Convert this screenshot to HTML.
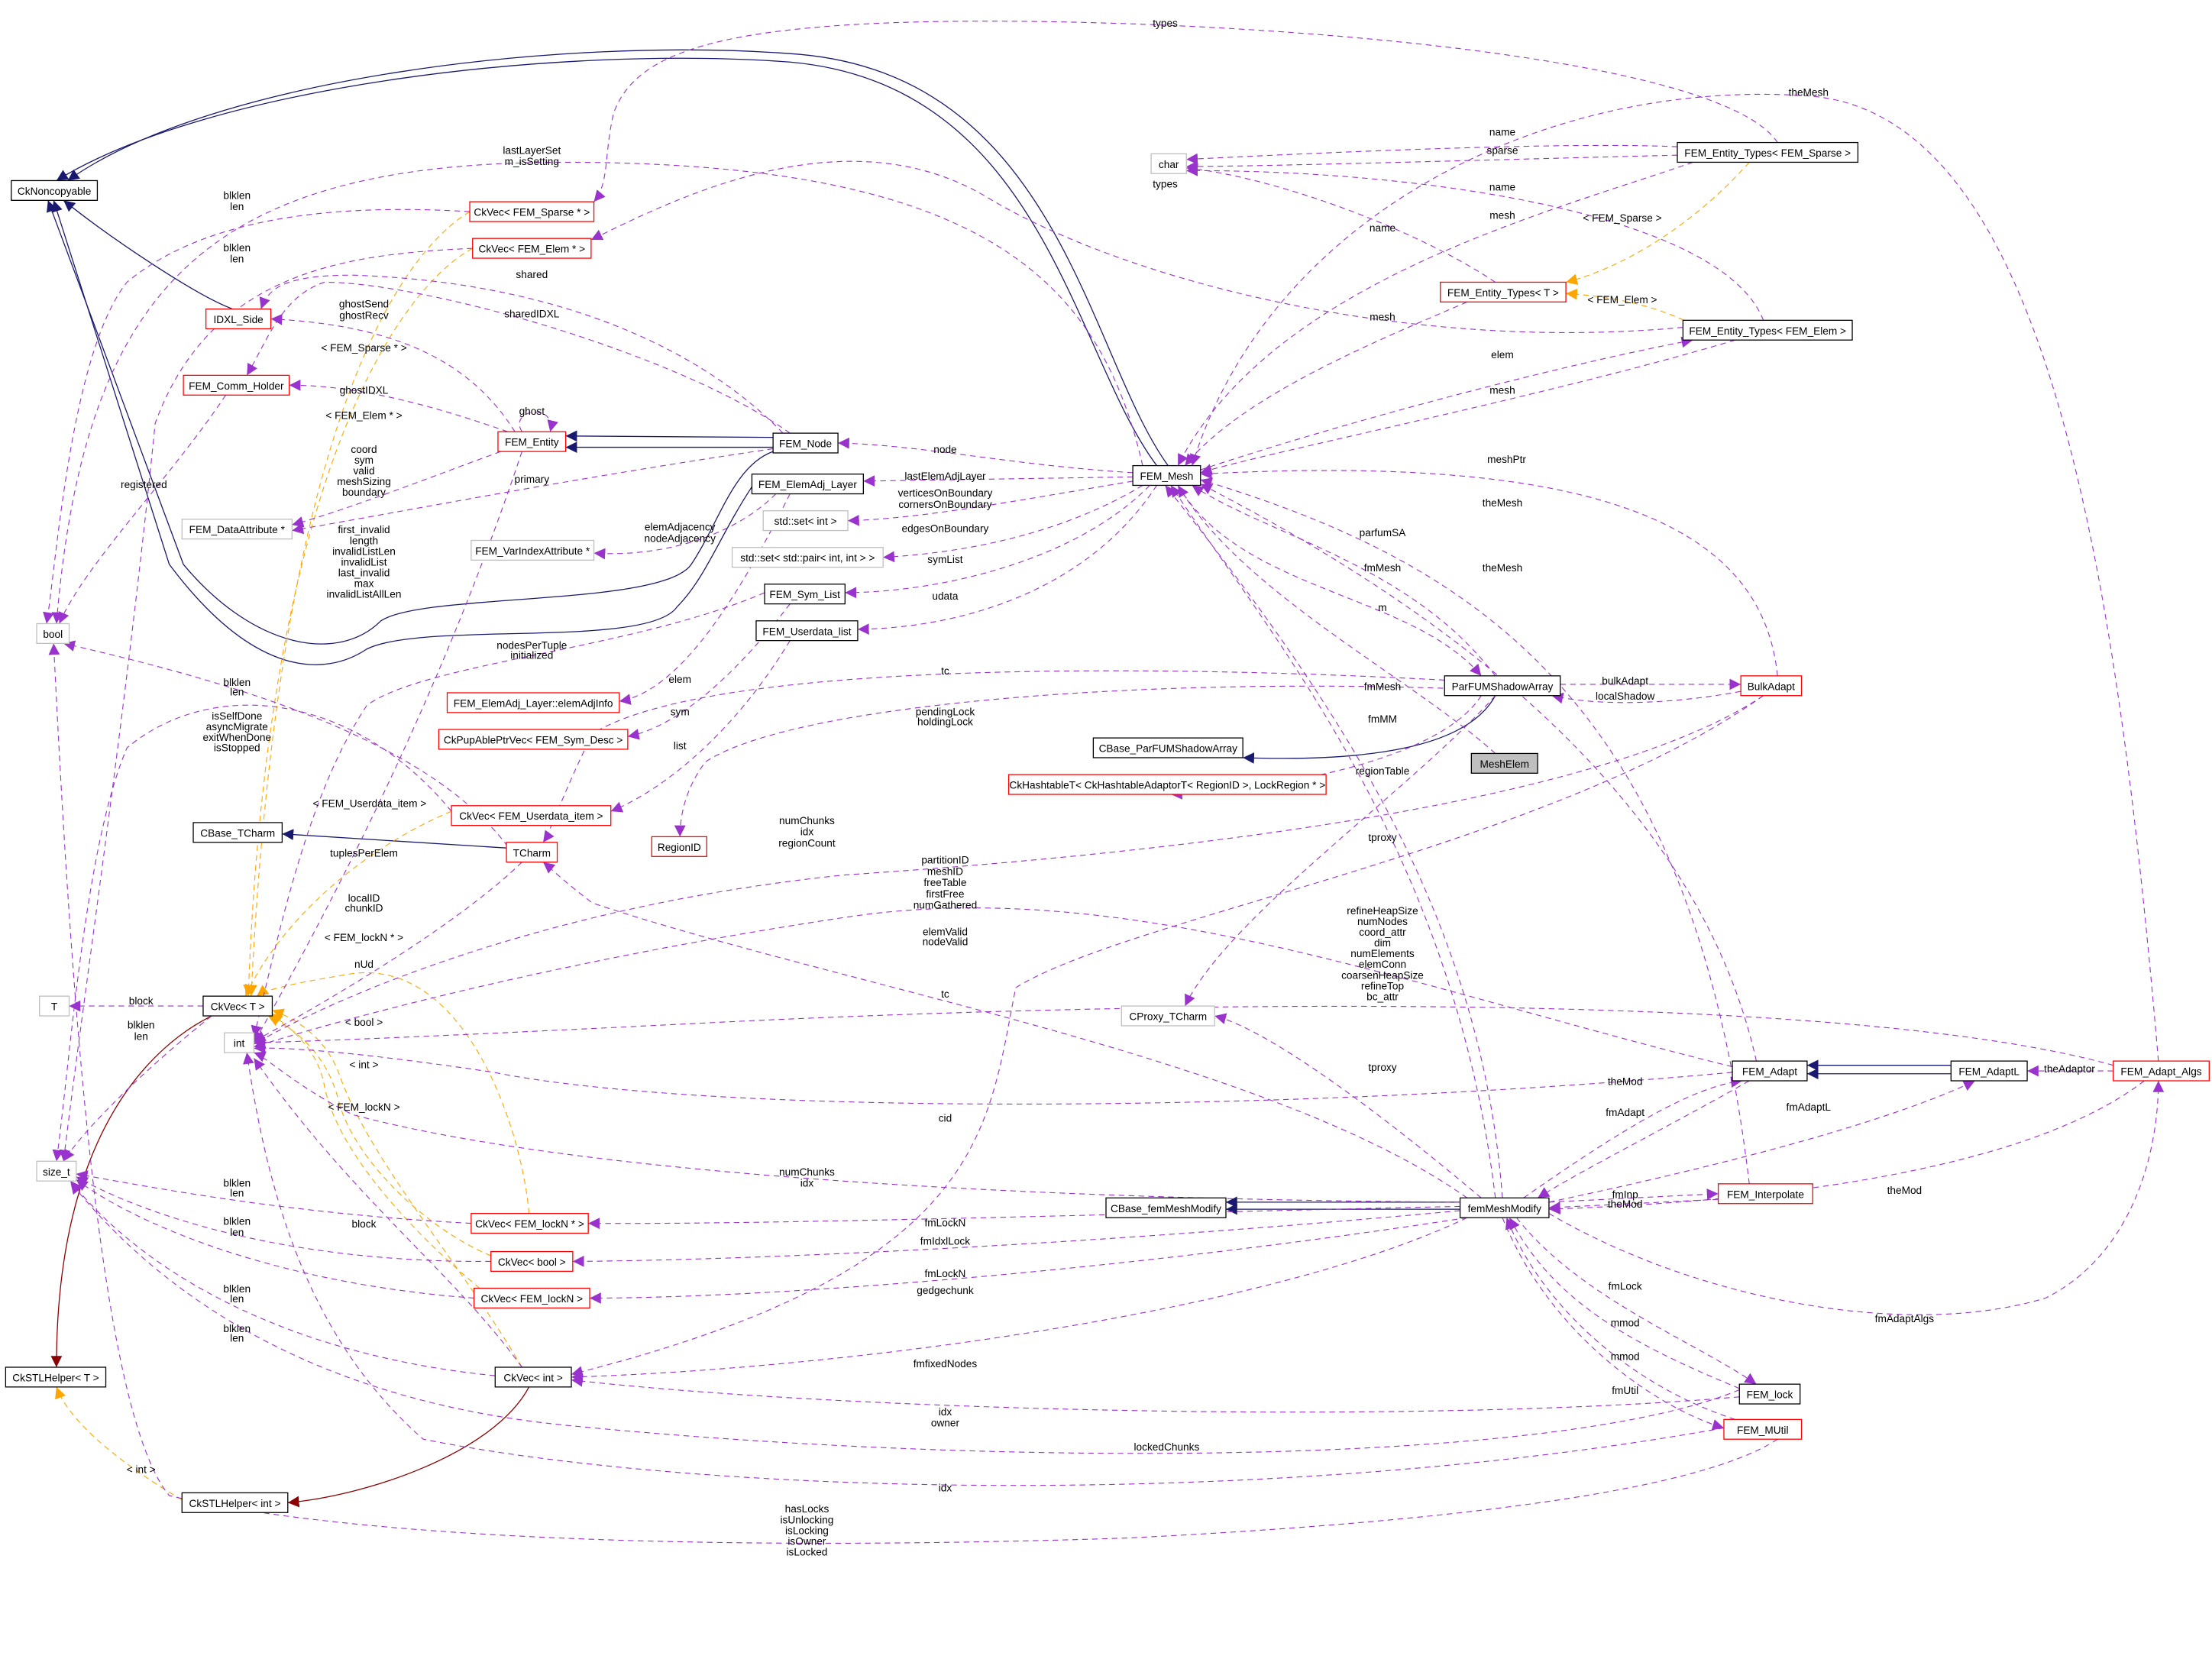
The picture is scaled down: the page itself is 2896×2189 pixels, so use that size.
<!DOCTYPE html>
<html><head><meta charset="utf-8"><style>
html,body{margin:0;padding:0;background:#fff;}
svg{display:block;}
text{font-family:"Liberation Sans",sans-serif;font-size:7.4px;fill:#000;text-anchor:middle;}
.p{fill:none;stroke:#9a32cd;stroke-width:0.6;stroke-dasharray:4,3;}
.n{fill:none;stroke:#191970;stroke-width:0.7;}
.o{fill:none;stroke:#ffa500;stroke-width:0.6;stroke-dasharray:4,3;}
.r{fill:none;stroke:#8b0000;stroke-width:0.7;}
.bk{fill:#fff;stroke:#000;stroke-width:0.7;}
.rd{fill:#fff;stroke:#ff0000;stroke-width:0.7;}
.gy{fill:#fff;stroke:#bfbfbf;stroke-width:0.7;}
</style></head><body>
<svg width="2896" height="2189" viewBox="0 0 1568 1185" preserveAspectRatio="none" xmlns="http://www.w3.org/2000/svg">
<defs>
<marker id="mp" viewBox="0 0 10 10" refX="10" refY="5" markerWidth="8" markerHeight="8" markerUnits="userSpaceOnUse" orient="auto"><path d="M0,0L10,5L0,10z" fill="#9a32cd"/></marker>
<marker id="mn" viewBox="0 0 10 10" refX="10" refY="5" markerWidth="8" markerHeight="8" markerUnits="userSpaceOnUse" orient="auto"><path d="M0,0L10,5L0,10z" fill="#191970"/></marker>
<marker id="mo" viewBox="0 0 10 10" refX="10" refY="5" markerWidth="8" markerHeight="8" markerUnits="userSpaceOnUse" orient="auto"><path d="M0,0L10,5L0,10z" fill="#ffa500"/></marker>
<marker id="mr" viewBox="0 0 10 10" refX="10" refY="5" markerWidth="8" markerHeight="8" markerUnits="userSpaceOnUse" orient="auto"><path d="M0,0L10,5L0,10z" fill="#8b0000"/></marker>
</defs>
<rect width="1568" height="1185" fill="#fff"/>
<!-- navy -->
<g marker-end="url(#mn)">
<path class="n" d="M820,330 C760,250 740,60 560,44 C400,32 150,60 40,128"/>
<path class="n" d="M828,330 C770,250 750,50 560,38 C400,26 150,55 48,128"/>
<path class="n" d="M548,320 C520,330 510,370 490,400 C470,430 300,420 270,440 C240,470 180,460 130,400 L34,142"/>
<path class="n" d="M533,345 C510,380 500,410 480,430 C460,460 300,440 260,460 C230,480 180,480 120,400 L38,142"/>
<path class="n" d="M165,219 C140,210 80,170 45,142"/>
<path class="n" d="M548,310 L401,309"/>
<path class="n" d="M548,317 L401,317"/>
<path class="n" d="M359,601 L200,591"/>
<path class="n" d="M1060,493 C1040,530 970,540 881,537"/>
<path class="n" d="M1035,852 L869,852"/>
<path class="n" d="M1035,857 L869,857"/>
<path class="n" d="M1383,755 L1281,755"/>
<path class="n" d="M1383,761 L1281,761"/>
</g>
<path class="r" d="M150,720 C110,740 40,800 40,969" marker-end="url(#mr)"/>
<path class="r" d="M375,983 C350,1030 260,1060 204,1065" marker-end="url(#mr)"/>
<!-- orange -->
<g marker-end="url(#mo)">
<path class="o" d="M129,1063 C90,1040 50,1010 40,983"/>
<path class="o" d="M333,150 C300,170 200,260 178,706"/>
<path class="o" d="M335,176 C290,200 190,320 176,706"/>
<path class="o" d="M320,575 C260,600 200,650 174,706"/>
<path class="o" d="M375,860 C370,800 330,680 250,690 C220,695 190,700 182,706"/>
<path class="o" d="M348,890 C300,870 250,820 240,780 C230,740 200,725 190,720"/>
<path class="o" d="M340,913 C300,880 240,820 230,770 C225,740 200,725 192,718"/>
<path class="o" d="M370,969 C330,900 260,820 240,760 C230,735 210,722 193,716"/>
<path class="o" d="M1240,115 C1200,160 1150,190 1110,200"/>
<path class="o" d="M1200,230 C1170,215 1140,210 1110,208"/>
</g>
<!-- purple -->
<g marker-end="url(#mp)">
<path class="p" d="M1189,104 C1100,100 900,110 841,113"/>
<path class="p" d="M1189,110 C1100,112 900,118 841,118"/>
<path class="p" d="M1200,115 C1100,150 900,200 835,330"/>
<path class="p" d="M1260,101 C1220,40 900,15 700,15 C500,15 450,40 435,80 C428,110 432,130 421,143"/>
<path class="p" d="M1530,752 C1500,400 1450,80 1282,68 C1100,55 900,150 845,330"/>
<path class="p" d="M1060,200 C1000,160 900,125 841,119"/>
<path class="p" d="M1040,214 C980,240 880,280 840,330"/>
<path class="p" d="M1250,227 C1220,150 1000,120 841,121"/>
<path class="p" d="M1193,232 C1000,250 800,200 700,140 C600,80 480,140 419,170"/>
<path class="p" d="M851,333 C950,300 1100,260 1200,241"/>
<path class="p" d="M1230,241 C1100,280 900,320 851,335"/>
<path class="p" d="M1260,479 C1250,380 1150,320 851,336"/>
<path class="p" d="M1240,839 C1200,500 1050,400 851,340"/>
<path class="p" d="M1245,752 C1200,550 1000,420 851,343"/>
<path class="p" d="M1060,479 C1000,400 900,380 845,344"/>
<path class="p" d="M835,344 C880,420 1000,420 1050,479"/>
<path class="p" d="M1060,534 C1000,480 880,420 835,344"/>
<path class="p" d="M1060,849 C1030,600 900,450 830,344"/>
<path class="p" d="M1065,849 C1050,650 950,500 826,344"/>
<path class="p" d="M803,335 C720,330 650,315 594,314"/>
<path class="p" d="M803,338 L612,341"/>
<path class="p" d="M803,341 C720,355 650,368 601,369"/>
<path class="p" d="M810,344 C750,380 680,392 626,395"/>
<path class="p" d="M815,344 C760,400 660,420 599,420"/>
<path class="p" d="M820,344 C770,420 680,445 608,446"/>
<path class="p" d="M810,330 C780,200 700,115 400,115 C150,115 60,200 40,442"/>
<path class="p" d="M333,150 C250,145 150,150 90,200 C50,250 40,400 33,442"/>
<path class="p" d="M335,176 C250,180 150,190 110,300 C90,500 60,700 45,823"/>
<path class="p" d="M555,307 C500,250 400,200 250,195 C200,195 190,205 185,219"/>
<path class="p" d="M365,306 C330,250 270,230 192,226"/>
<path class="p" d="M360,306 C300,285 250,273 205,273"/>
<path class="p" d="M560,307 C480,250 300,200 230,200 C200,210 190,240 175,266"/>
<path class="p" d="M370,306 C360,290 395,285 390,306"/>
<path class="p" d="M355,320 C300,340 250,360 207,372"/>
<path class="p" d="M548,318 C400,340 300,360 207,376"/>
<path class="p" d="M160,280 C120,340 60,400 42,442"/>
<path class="p" d="M550,350 C520,380 470,395 421,392"/>
<path class="p" d="M370,320 C310,500 230,650 180,739"/>
<path class="p" d="M560,428 C520,480 480,515 445,522"/>
<path class="p" d="M560,454 C520,520 470,560 433,575"/>
<path class="p" d="M560,350 C520,430 480,490 439,497"/>
<path class="p" d="M542,420 C450,460 300,470 260,500 C220,560 200,650 180,735"/>
<path class="p" d="M1024,482 C800,470 500,470 420,520 C400,560 390,590 385,597"/>
<path class="p" d="M1030,488 C800,480 560,500 500,540 C485,560 482,580 482,593"/>
<path class="p" d="M1050,493 C1020,540 900,560 830,563"/>
<path class="p" d="M360,600 C300,520 150,480 45,456"/>
<path class="p" d="M320,575 C250,490 150,480 90,530 C60,600 50,750 40,823"/>
<path class="p" d="M370,611 C330,650 250,700 180,738"/>
<path class="p" d="M1250,493 C1150,560 900,600 600,620 C400,640 250,700 180,740"/>
<path class="p" d="M1228,756 C1000,700 800,620 600,650 C400,680 250,720 180,742"/>
<path class="p" d="M1040,849 C900,750 600,700 420,640 C400,625 390,615 385,611"/>
<path class="p" d="M1498,755 C1300,700 800,710 500,725 C300,735 220,738 180,739"/>
<path class="p" d="M1050,849 C980,790 900,730 861,720"/>
<path class="p" d="M1060,493 C1000,560 870,650 840,713"/>
<path class="p" d="M1228,760 C900,790 500,790 350,760 C250,745 200,742 180,743"/>
<path class="p" d="M1035,852 C700,850 400,830 250,790 C210,770 190,750 180,746"/>
<path class="p" d="M334,867 C200,860 100,840 54,832"/>
<path class="p" d="M1035,855 C800,860 550,868 417,867"/>
<path class="p" d="M1035,858 C800,880 550,893 406,894"/>
<path class="p" d="M348,894 C200,895 100,860 54,834"/>
<path class="p" d="M1040,863 C800,900 550,920 418,920"/>
<path class="p" d="M336,920 C200,910 100,870 54,836"/>
<path class="p" d="M351,975 C200,960 100,900 50,837"/>
<path class="p" d="M370,969 C320,900 250,850 180,750"/>
<path class="p" d="M1040,863 C900,930 600,970 405,976"/>
<path class="p" d="M1250,493 C1100,600 800,650 720,700 C700,800 700,900 405,974"/>
<path class="p" d="M1233,990 C1000,1010 600,1000 405,978"/>
<path class="p" d="M1233,985 C1100,1040 700,1040 400,1010 C200,990 100,900 50,838"/>
<path class="p" d="M1222,1012 C900,1070 500,1060 300,1020 C220,950 190,850 175,746"/>
<path class="p" d="M1260,1020 C1200,1060 1000,1080 800,1090 C500,1100 250,1090 120,1060 C70,1000 50,700 38,456"/>
<path class="p" d="M1080,849 C1150,800 1200,770 1235,766"/>
<path class="p" d="M1240,766 C1180,800 1120,830 1090,849"/>
<path class="p" d="M1098,852 C1250,820 1350,790 1400,766"/>
<path class="p" d="M1520,766 C1450,820 1300,850 1098,857"/>
<path class="p" d="M1098,860 C1200,920 1350,950 1450,920 C1510,890 1530,820 1530,766"/>
<path class="p" d="M1098,852 L1218,846"/>
<path class="p" d="M1218,850 L1098,856"/>
<path class="p" d="M1075,863 C1120,920 1200,950 1245,981"/>
<path class="p" d="M1233,984 C1150,950 1100,920 1070,863"/>
<path class="p" d="M1065,863 C1100,950 1180,1000 1222,1012"/>
<path class="p" d="M1230,1006 C1150,980 1090,920 1068,863"/>
<path class="p" d="M1498,759 L1437,759"/>
<path class="p" d="M1106,485 L1234,485"/>
<path class="p" d="M1234,490 C1180,500 1130,500 1100,493"/>
<path class="p" d="M144,713 L49,713"/>
<path class="p" d="M150,720 C100,760 60,800 45,823"/>
</g>
<!-- nodes -->
<g>
<rect class="bk" x="8" y="128" width="61" height="14"/><text x="38.5" y="138">CkNoncopyable</text>
<rect class="rd" x="333" y="143" width="88" height="14"/><text x="377" y="153">CkVec&lt; FEM_Sparse * &gt;</text>
<rect class="rd" x="335" y="169" width="84" height="14"/><text x="377" y="179">CkVec&lt; FEM_Elem * &gt;</text>
<rect class="rd" x="146" y="219" width="46" height="14"/><text x="169" y="229">IDXL_Side</text>
<rect class="rd" x="130" y="266" width="75" height="14"/><text x="167.5" y="276">FEM_Comm_Holder</text>
<rect class="rd" x="353" y="306" width="48" height="14"/><text x="377" y="316">FEM_Entity</text>
<rect class="bk" x="548" y="307" width="46" height="14"/><text x="571" y="317">FEM_Node</text>
<rect class="bk" x="533" y="336" width="79" height="14"/><text x="572.5" y="346">FEM_ElemAdj_Layer</text>
<rect class="gy" x="129" y="368" width="78" height="14"/><text x="168" y="378">FEM_DataAttribute *</text>
<rect class="gy" x="334" y="383" width="87" height="14"/><text x="377.5" y="393">FEM_VarIndexAttribute *</text>
<rect class="gy" x="541" y="362" width="60" height="14"/><text x="571" y="372">std::set&lt; int &gt;</text>
<rect class="gy" x="519" y="388" width="107" height="14"/><text x="572.5" y="398">std::set&lt; std::pair&lt; int, int &gt; &gt;</text>
<rect class="bk" x="542" y="414" width="57" height="14"/><text x="570.5" y="424">FEM_Sym_List</text>
<rect class="bk" x="536" y="440" width="72" height="14"/><text x="572" y="450">FEM_Userdata_list</text>
<rect class="gy" x="26" y="442" width="23" height="14"/><text x="37.5" y="452">bool</text>
<rect class="rd" x="317" y="491" width="122" height="14"/><text x="378" y="501">FEM_ElemAdj_Layer::elemAdjInfo</text>
<rect class="rd" x="311" y="517" width="134" height="14"/><text x="378" y="527">CkPupAblePtrVec&lt; FEM_Sym_Desc &gt;</text>
<rect class="rd" x="320" y="571" width="113" height="14"/><text x="376.5" y="581">CkVec&lt; FEM_Userdata_item &gt;</text>
<rect class="bk" x="137" y="583" width="63" height="14"/><text x="168.5" y="593">CBase_TCharm</text>
<rect class="rd" x="359" y="597" width="36" height="14"/><text x="377" y="607">TCharm</text>
<rect class="rd" x="462" y="593" width="39" height="14"/><text x="481.5" y="603">RegionID</text>
<rect class="gy" x="28" y="706" width="21" height="14"/><text x="38.5" y="716">T</text>
<rect class="bk" x="144" y="706" width="49" height="14"/><text x="168.5" y="716">CkVec&lt; T &gt;</text>
<rect class="gy" x="159" y="732" width="21" height="14"/><text x="169.5" y="742">int</text>
<rect class="gy" x="26" y="823" width="28" height="14"/><text x="40" y="833">size_t</text>
<rect class="rd" x="334" y="860" width="83" height="14"/><text x="375.5" y="870">CkVec&lt; FEM_lockN * &gt;</text>
<rect class="rd" x="348" y="887" width="58" height="14"/><text x="377" y="897">CkVec&lt; bool &gt;</text>
<rect class="rd" x="336" y="913" width="82" height="14"/><text x="377" y="923">CkVec&lt; FEM_lockN &gt;</text>
<rect class="bk" x="351" y="969" width="54" height="14"/><text x="378" y="979">CkVec&lt; int &gt;</text>
<rect class="bk" x="4" y="969" width="71" height="14"/><text x="39.5" y="979">CkSTLHelper&lt; T &gt;</text>
<rect class="bk" x="129" y="1058" width="75" height="14"/><text x="166.5" y="1068">CkSTLHelper&lt; int &gt;</text>
<rect class="gy" x="816" y="109" width="25" height="14"/><text x="828.5" y="119">char</text>
<rect class="bk" x="1189" y="101" width="128" height="14"/><text x="1253" y="111">FEM_Entity_Types&lt; FEM_Sparse &gt;</text>
<rect class="rd" x="1021" y="200" width="89" height="14"/><text x="1065.5" y="210">FEM_Entity_Types&lt; T &gt;</text>
<rect class="bk" x="1193" y="227" width="120" height="14"/><text x="1253" y="237">FEM_Entity_Types&lt; FEM_Elem &gt;</text>
<rect class="bk" x="803" y="330" width="48" height="14"/><text x="827" y="340">FEM_Mesh</text>
<rect class="bk" x="1024" y="479" width="82" height="14"/><text x="1065" y="489">ParFUMShadowArray</text>
<rect class="rd" x="1234" y="479" width="43" height="14"/><text x="1255.5" y="489">BulkAdapt</text>
<rect class="bk" x="775" y="523" width="106" height="14"/><text x="828" y="533">CBase_ParFUMShadowArray</text>
<rect x="1043" y="534" width="47" height="14" fill="#bfbfbf" stroke="#000" stroke-width="0.7"/><text x="1066.5" y="544">MeshElem</text>
<rect class="rd" x="715" y="549" width="225" height="14"/><text x="827.5" y="559">CkHashtableT&lt; CkHashtableAdaptorT&lt; RegionID &gt;, LockRegion * &gt;</text>
<rect class="gy" x="795" y="713" width="66" height="14"/><text x="828" y="723">CProxy_TCharm</text>
<rect class="bk" x="1228" y="752" width="53" height="14"/><text x="1254.5" y="762">FEM_Adapt</text>
<rect class="bk" x="1383" y="752" width="54" height="14"/><text x="1410" y="762">FEM_AdaptL</text>
<rect class="rd" x="1498" y="752" width="68" height="14"/><text x="1532" y="762">FEM_Adapt_Algs</text>
<rect class="bk" x="784" y="849" width="85" height="14"/><text x="826.5" y="859">CBase_femMeshModify</text>
<rect class="bk" x="1035" y="849" width="63" height="14"/><text x="1066.5" y="859">femMeshModify</text>
<rect class="rd" x="1218" y="839" width="67" height="14"/><text x="1251.5" y="849">FEM_Interpolate</text>
<rect class="bk" x="1233" y="981" width="43" height="14"/><text x="1254.5" y="991">FEM_lock</text>
<rect class="rd" x="1222" y="1006" width="55" height="14"/><text x="1249.5" y="1016">FEM_MUtil</text>
</g>
<!-- labels -->
<g>
<text x="826" y="19">types</text>
<text x="1065" y="96">name</text><text x="1065" y="109">sparse</text>
<text x="1282" y="68">theMesh</text>
<text x="826" y="133">types</text>
<text x="1065" y="135">name</text><text x="1065" y="155">mesh</text>
<text x="980" y="164">name</text><text x="1150" y="215">&lt; FEM_Elem &gt;</text><text x="1150" y="157">&lt; FEM_Sparse &gt;</text>
<text x="980" y="227">mesh</text><text x="1065" y="254">elem</text><text x="1065" y="279">mesh</text>
<text x="1068" y="328">meshPtr</text><text x="1065" y="359">theMesh</text><text x="1065" y="405">theMesh</text>
<text x="980" y="380">parfumSA</text><text x="980" y="405">fmMesh</text><text x="980" y="433">m</text>
<text x="980" y="489">fmMesh</text><text x="980" y="512">fmMM</text><text x="980" y="549">regionTable</text><text x="980" y="596">tproxy</text>
<text x="980" y="648">refineHeapSize</text><text x="980" y="655.6">numNodes</text><text x="980" y="663.2">coord_attr</text><text x="980" y="670.8">dim</text><text x="980" y="678.4">numElements</text><text x="980" y="686">elemConn</text><text x="980" y="693.6">coarsenHeapSize</text><text x="980" y="701.2">refineTop</text><text x="980" y="708.8">bc_attr</text>
<text x="980" y="759">tproxy</text>
<text x="1152" y="769">theMod</text><text x="1152" y="791">fmAdapt</text><text x="1282" y="787">fmAdaptL</text><text x="1467" y="760">theAdaptor</text>
<text x="1152" y="849">fmInp</text><text x="1152" y="856">theMod</text><text x="1350" y="846">theMod</text><text x="1350" y="937">fmAdaptAlgs</text>
<text x="1152" y="914">fmLock</text><text x="1152" y="940">mmod</text><text x="1152" y="964">mmod</text><text x="1152" y="988">fmUtil</text>
<text x="1152" y="485">bulkAdapt</text><text x="1152" y="496">localShadow</text>
<text x="377" y="109">lastLayerSet</text><text x="377" y="117">m_isSetting</text>
<text x="168" y="141">blklen</text><text x="168" y="149">len</text>
<text x="168" y="178">blklen</text><text x="168" y="186">len</text>
<text x="377" y="197">shared</text><text x="377" y="225">sharedIDXL</text>
<text x="258" y="218">ghostSend</text><text x="258" y="226">ghostRecv</text>
<text x="258" y="249">&lt; FEM_Sparse * &gt;</text><text x="258" y="279">ghostIDXL</text><text x="258" y="297">&lt; FEM_Elem * &gt;</text>
<text x="377" y="294">ghost</text>
<text x="258" y="321">coord</text><text x="258" y="328.6">sym</text><text x="258" y="336.2">valid</text><text x="258" y="343.8">meshSizing</text><text x="258" y="351.4">boundary</text>
<text x="377" y="342">primary</text><text x="102" y="346">registered</text>
<text x="258" y="378">first_invalid</text><text x="258" y="385.6">length</text><text x="258" y="393.2">invalidListLen</text><text x="258" y="400.8">invalidList</text><text x="258" y="408.4">last_invalid</text><text x="258" y="416">max</text><text x="258" y="423.6">invalidListAllLen</text>
<text x="482" y="376">elemAdjacency</text><text x="482" y="384">nodeAdjacency</text>
<text x="670" y="321">node</text><text x="670" y="340">lastElemAdjLayer</text>
<text x="670" y="352">verticesOnBoundary</text><text x="670" y="360">cornersOnBoundary</text>
<text x="670" y="377">edgesOnBoundary</text><text x="670" y="399">symList</text><text x="670" y="425">udata</text>
<text x="377" y="460">nodesPerTuple</text><text x="377" y="467">initialized</text>
<text x="482" y="484">elem</text><text x="482" y="507">sym</text><text x="482" y="531">list</text>
<text x="670" y="478">tc</text><text x="670" y="507">pendingLock</text><text x="670" y="514">holdingLock</text>
<text x="168" y="486">blklen</text><text x="168" y="493">len</text>
<text x="168" y="510">isSelfDone</text><text x="168" y="517.5">asyncMigrate</text><text x="168" y="525">exitWhenDone</text><text x="168" y="532.5">isStopped</text>
<text x="262" y="572">&lt; FEM_Userdata_item &gt;</text><text x="258" y="607">tuplesPerElem</text>
<text x="572" y="584">numChunks</text><text x="572" y="592">idx</text><text x="572" y="600">regionCount</text>
<text x="670" y="612">partitionID</text><text x="670" y="620">meshID</text><text x="670" y="628">freeTable</text><text x="670" y="636">firstFree</text><text x="670" y="644">numGathered</text>
<text x="670" y="663">elemValid</text><text x="670" y="670">nodeValid</text>
<text x="258" y="639">localID</text><text x="258" y="646">chunkID</text>
<text x="258" y="667">&lt; FEM_lockN * &gt;</text><text x="258" y="686">nUd</text>
<text x="100" y="712">block</text><text x="100" y="729">blklen</text><text x="100" y="737">len</text>
<text x="258" y="727">&lt; bool &gt;</text><text x="670" y="707">tc</text><text x="670" y="795">cid</text>
<text x="258" y="757">&lt; int &gt;</text><text x="258" y="787">&lt; FEM_lockN &gt;</text>
<text x="572" y="833">numChunks</text><text x="572" y="841">idx</text>
<text x="168" y="841">blklen</text><text x="168" y="848">len</text>
<text x="670" y="869">fmLockN</text><text x="670" y="882">fmIdxlLock</text>
<text x="168" y="868">blklen</text><text x="168" y="876">len</text><text x="258" y="870">block</text>
<text x="670" y="905">fmLockN</text><text x="670" y="917">gedgechunk</text>
<text x="168" y="916">blklen</text><text x="168" y="923">len</text>
<text x="670" y="969">fmfixedNodes</text>
<text x="168" y="944">blklen</text><text x="168" y="951">len</text>
<text x="670" y="1003">idx</text><text x="670" y="1011">owner</text>
<text x="827" y="1028">lockedChunks</text><text x="670" y="1057">idx</text><text x="100" y="1044">&lt; int &gt;</text>
<text x="572" y="1072">hasLocks</text><text x="572" y="1079.6">isUnlocking</text><text x="572" y="1087.2">isLocking</text><text x="572" y="1094.8">isOwner</text><text x="572" y="1102.4">isLocked</text>
</g>
</svg>
</body></html>
